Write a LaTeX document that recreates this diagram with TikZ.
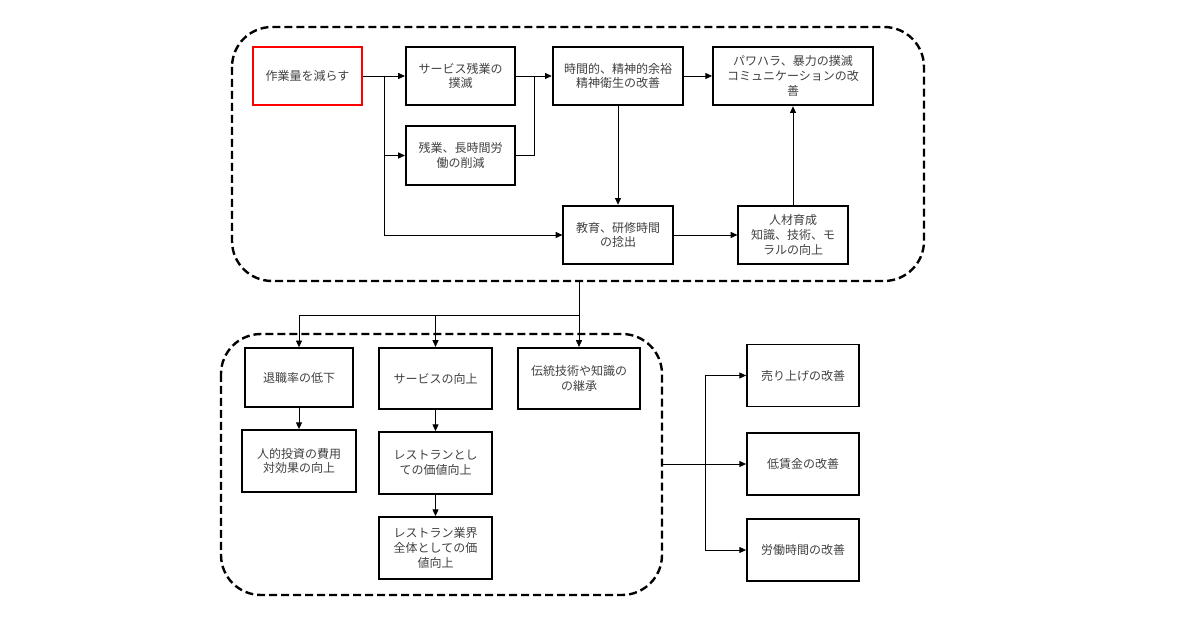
\documentclass[tikz,border=0pt]{standalone}
\usepackage{fontspec}
\newfontfamily\jpfont{Noto Sans CJK JP}
\usetikzlibrary{arrows.meta}
\tikzset{
  box/.style={draw, line width=1.4pt, align=center, inner sep=2pt,
    minimum width=82pt, minimum height=44pt,
    font=\jpfont\fontsize{9}{11}\selectfont, text=black!75},
  group/.style={draw, line width=1.8pt, rounded corners=30pt,
    dash pattern=on 6pt off 3pt},
  wire/.style={line width=0.6pt},
  link/.style={wire, -{Triangle[length=5pt,width=4.5pt]}},
}
\begin{document}
\begin{tikzpicture}[x=0.75pt,y=-0.75pt]
  \useasboundingbox (0,0) rectangle (1200,630);
  % groups
  \draw[group] (232,27) rectangle (924,281);
  \draw[group] (221,334) rectangle (662,595);
  % upper group
  \node[box, draw=red] (reduce) at (307.5,76) {作業量を減らす};
  \node[box] (unpaid) at (460.5,76) {サービス残業の\\撲滅};
  \node[box] (overtime) at (460.5,155.5) {残業、長時間労\\働の削減};
  \node[box, minimum width=98pt] (mental) at (618,76) {時間的、精神的余裕\\精神衛生の改善};
  \node[box, minimum width=120pt] (harass) at (793,76) {パワハラ、暴力の撲滅\\コミュニケーションの改\\善};
  \node[box] (edu) at (618,235) {教育、研修時間\\の捻出};
  \node[box] (talent) at (793,235) {人材育成\\知識、技術、モ\\ラルの向上};
  % lower group
  \node[box, minimum width=81pt] (retire) at (299,377.5) {退職率の低下};
  \node[box, minimum width=85pt, minimum height=46pt] (service) at (435.5,378.5) {サービスの向上};
  \node[box, minimum width=91pt, minimum height=46pt] (craft) at (579,378.5) {伝統技術や知識の\\の継承};
  \node[box, minimum width=85pt, minimum height=46.5pt] (roi) at (299,461) {人的投資の費用\\対効果の向上};
  \node[box, minimum width=85pt, minimum height=46.5pt] (value) at (435.5,463) {レストランとし\\ての価値向上};
  \node[box, minimum width=85pt, minimum height=46.5pt] (industry) at (435.5,548) {レストラン業界\\全体としての価\\値向上};
  % results
  \node[box, minimum width=84pt, minimum height=46.5pt] (sales) at (803,375.5) {売り上げの改善};
  \node[box, minimum width=84pt, minimum height=46.5pt] (wage) at (803,464) {低賃金の改善};
  \node[box, minimum width=84pt, minimum height=46.5pt] (hours) at (803,550) {労働時間の改善};
  % junctions
  \coordinate (fork1) at (384,76);
  \coordinate (join1) at (534,76);
  \coordinate (topout) at (579,281);
  \coordinate (bus) at (579,315);
  \coordinate (botout) at (662,464);
  \coordinate (fork2) at (705,464);
  % upper links
  \draw[link] (reduce) -- (unpaid);
  \draw[link] (fork1) |- (overtime);
  \draw[link] (fork1) |- (edu);
  \draw[link] (unpaid) -- (mental);
  \draw[wire] (overtime) -| (join1);
  \draw[link] (mental) -- (harass);
  \draw[link] (mental) -- (edu);
  \draw[link] (edu) -- (talent);
  \draw[link] (talent) -- (harass);
  % between groups
  \draw[wire] (topout) -- (bus);
  \draw[link] (bus) -| (retire);
  \draw[link] (bus) -| (service);
  \draw[link] (bus) -- (craft);
  % lower links
  \draw[link] (retire) -- (roi);
  \draw[link] (service) -- (value);
  \draw[link] (value) -- (industry);
  % results
  \draw[wire] (botout) -- (fork2);
  \draw[link] (fork2) |- (sales);
  \draw[link] (fork2) -- (wage);
  \draw[link] (fork2) |- (hours);
\end{tikzpicture}
\end{document}
